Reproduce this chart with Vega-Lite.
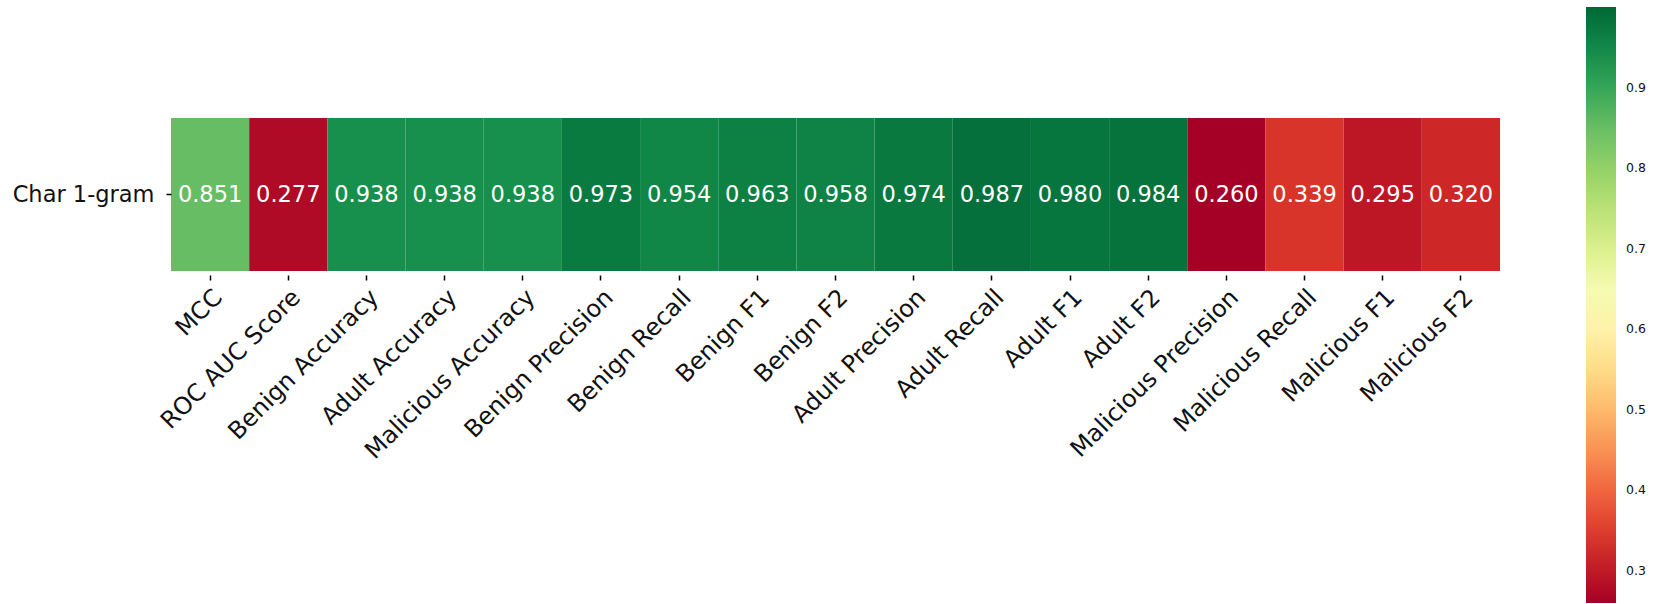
{
  "$schema": "https://vega.github.io/schema/vega-lite/v6.json",
  "width": 1329,
  "height": 153,
  "autosize": {"type": "none"},
  "padding": {"left": 171, "top": 118, "right": 160, "bottom": 333},
  "background": "white",
  "config": {
    "view": {"stroke": null},
    "font": "DejaVu Sans"
  },
  "data": {
    "values": [
      {"model": "Char 1-gram", "metric": "MCC", "value": 0.851},
      {"model": "Char 1-gram", "metric": "ROC AUC Score", "value": 0.277},
      {"model": "Char 1-gram", "metric": "Benign Accuracy", "value": 0.938},
      {"model": "Char 1-gram", "metric": "Adult Accuracy", "value": 0.938},
      {"model": "Char 1-gram", "metric": "Malicious Accuracy", "value": 0.938},
      {"model": "Char 1-gram", "metric": "Benign Precision", "value": 0.973},
      {"model": "Char 1-gram", "metric": "Benign Recall", "value": 0.954},
      {"model": "Char 1-gram", "metric": "Benign F1", "value": 0.963},
      {"model": "Char 1-gram", "metric": "Benign F2", "value": 0.958},
      {"model": "Char 1-gram", "metric": "Adult Precision", "value": 0.974},
      {"model": "Char 1-gram", "metric": "Adult Recall", "value": 0.987},
      {"model": "Char 1-gram", "metric": "Adult F1", "value": 0.980},
      {"model": "Char 1-gram", "metric": "Adult F2", "value": 0.984},
      {"model": "Char 1-gram", "metric": "Malicious Precision", "value": 0.260},
      {"model": "Char 1-gram", "metric": "Malicious Recall", "value": 0.339},
      {"model": "Char 1-gram", "metric": "Malicious F1", "value": 0.295},
      {"model": "Char 1-gram", "metric": "Malicious F2", "value": 0.320}
    ]
  },
  "encoding": {
    "x": {
      "field": "metric",
      "type": "nominal",
      "sort": null,
      "scale": {"paddingInner": 0, "paddingOuter": 0},
      "axis": {
        "title": null,
        "domain": false,
        "offset": 4,
        "tickSize": 5,
        "tickWidth": 1.5,
        "tickColor": "#000000",
        "labelAngle": -45,
        "labelAlign": "right",
        "labelBaseline": "top",
        "labelFontSize": 24,
        "labelColor": "#111111",
        "labelPadding": 5,
        "labelLimit": 0,
        "labelOverlap": false,
        "labelBound": false
      }
    },
    "y": {
      "field": "model",
      "type": "nominal",
      "scale": {"paddingInner": 0, "paddingOuter": 0},
      "axis": {
        "title": null,
        "domain": false,
        "tickSize": 5,
        "tickWidth": 1.5,
        "tickColor": "#000000",
        "labelFontSize": 22.5,
        "labelColor": "#111111",
        "labelPadding": 12,
        "labelLimit": 0
      }
    }
  },
  "layer": [
    {
      "mark": {"type": "rect"},
      "encoding": {
        "color": {
          "field": "value",
          "type": "quantitative",
          "scale": {
            "domain": [0.26, 0.334, 0.408, 0.482, 0.556, 0.63, 0.704, 0.778, 0.852, 0.926, 1.0],
            "range": ["#a50026", "#d73027", "#f46d43", "#fdae61", "#fee08b", "#ffffbf", "#d9ef8b", "#a6d96a", "#66bd63", "#1a9850", "#006837"],
            "interpolate": "rgb"
          },
          "legend": {
            "orient": "none",
            "legendX": 1415,
            "legendY": -111,
            "direction": "vertical",
            "title": null,
            "padding": 0,
            "gradientLength": 596,
            "gradientThickness": 30,
            "gradientStrokeWidth": 0,
            "values": [0.3, 0.4, 0.5, 0.6, 0.7, 0.8, 0.9],
            "format": ".1f",
            "labelFontSize": 12.5,
            "labelColor": "#111111",
            "labelOffset": 10,
            "labelOverlap": false
          }
        }
      }
    },
    {
      "mark": {"type": "text", "fontSize": 22.5, "color": "#ffffff", "baseline": "middle", "align": "center"},
      "encoding": {
        "text": {"field": "value", "type": "quantitative", "format": ".3f"}
      }
    }
  ]
}
